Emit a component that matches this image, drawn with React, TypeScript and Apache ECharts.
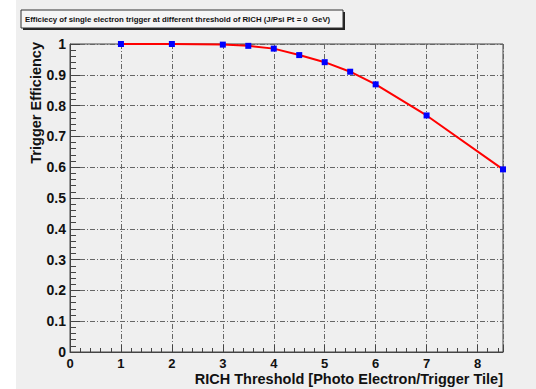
import React, { useEffect, useRef } from "react";
import * as echarts from "echarts";

const thresholds = [1, 2, 3, 3.5, 4, 4.5, 5, 5.5, 6, 7, 8.5];
const efficiency = [1.0, 1.0, 0.998, 0.994, 0.985, 0.964, 0.941, 0.91, 0.869, 0.768, 0.593];
const titleText = "Efficiecy of single electron trigger at different threshold of RICH (J/Psi Pt = 0  GeV)";
const xTitle = "RICH Threshold [Photo Electron/Trigger Tile]";
const yTitle = "Trigger Efficiency";

export default function App() {
  const ref = useRef<HTMLDivElement>(null);
  useEffect(() => {
    document.body.style.margin = "0";
    const chart = echarts.init(ref.current!, null, { renderer: "svg" });
    const font = "'Liberation Sans', Arial, sans-serif";
    const split = { show: true, lineStyle: { color: "#666", width: 1, type: [5, 2, 1, 2] as any } };
    chart.setOption({
      animation: false,
      backgroundColor: "#ffffff",
      grid: {
        left: 70,
        top: 44,
        right: 33,
        bottom: 37,
        show: true,
        backgroundColor: "transparent",
        borderColor: "#444",
        borderWidth: 1,
      },
      xAxis: {
        type: "value",
        min: 0,
        max: 8.5,
        interval: 1,
        axisLine: { show: true, onZero: false, lineStyle: { color: "#444", width: 1 } },
        axisTick: { show: true, inside: true, length: 7, lineStyle: { color: "#444" } },
        minorTick: { show: true, splitNumber: 5, length: 4, lineStyle: { color: "#444" } },
        axisLabel: {
          showMaxLabel: false,
          margin: 5,
          fontFamily: font,
          fontWeight: "bold",
          fontSize: 13,
          lineHeight: 13,
          color: "#111",
        },
        splitLine: split,
      },
      yAxis: {
        type: "value",
        min: 0,
        max: 1,
        interval: 0.1,
        axisLine: { show: true, onZero: false, lineStyle: { color: "#444", width: 1 } },
        axisTick: { show: true, inside: true, length: 10, lineStyle: { color: "#444" } },
        minorTick: { show: true, splitNumber: 5, length: 6, lineStyle: { color: "#444" } },
        axisLabel: {
          margin: 4,
          fontFamily: font,
          fontWeight: "bold",
          fontSize: 14,
          color: "#111",
          formatter: (v: number) => String(Math.round(v * 10) / 10),
        },
        splitLine: split,
      },
      graphic: [
        {
          type: "rect",
          z: -10,
          silent: true,
          shape: { x: 16, y: 0, width: 520, height: 389 },
          style: { fill: "#efefef" },
        },
        {
          type: "rect",
          shape: { x: 23, y: 12, width: 322, height: 18 },
          style: { fill: "#222" },
        },
        {
          type: "rect",
          shape: { x: 21, y: 10, width: 322, height: 18 },
          style: { fill: "#f5f5f5", stroke: "#333", lineWidth: 1 },
        },
        {
          type: "text",
          x: 25,
          y: 19,
          z: 10,
          style: {
            text: titleText,
            font: `bold 7.8px ${font}`,
            fill: "#111",
            verticalAlign: "middle",
            align: "left",
          },
        },
        {
          type: "text",
          x: 36,
          y: 42,
          rotation: Math.PI / 2,
          style: {
            text: yTitle,
            font: `bold 14.5px ${font}`,
            fill: "#111",
            align: "right",
            verticalAlign: "middle",
          },
        },
        {
          type: "text",
          x: 503,
          y: 379,
          style: {
            text: xTitle,
            font: `bold 14.5px ${font}`,
            lineHeight: 14,
            fill: "#111",
            align: "right",
            verticalAlign: "middle",
          },
        },
      ],
      series: [
        {
          type: "line",
          data: thresholds.map((t, i) => [t, efficiency[i]]),
          lineStyle: { color: "#ff0000", width: 2 },
          symbol: "rect",
          symbolSize: 6,
          itemStyle: { color: "#0000ff" },
          z: 5,
        },
      ],
    });
    return () => chart.dispose();
  }, []);
  return <div ref={ref} style={{ width: 536, height: 389 }} />;
}
